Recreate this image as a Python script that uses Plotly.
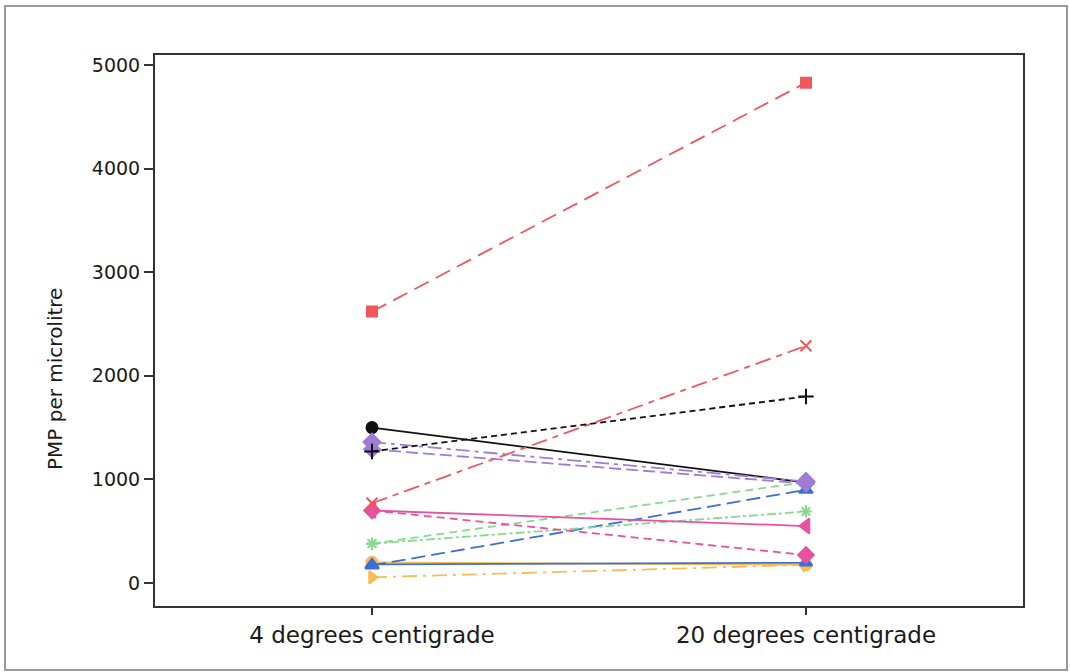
import plotly.graph_objects as go

categories = ["4 degrees centigrade", "20 degrees centigrade"]

orange_dashdot_tri = [55, 175]
orange_solid_circle = [200, 175]
blue_solid = [180, 195]
blue_longdash_tri = [170, 900]
green_dash = [380, 975]
green_dashdot_star = [380, 690]
pink_dash_diamond = [700, 270]
pink_solid_tri = [700, 550]
black_solid_circle = [1500, 970]
purple_dash = [1290, 960]
purple_longdash_diamond = [1360, 980]
red_dashdot_x = [770, 2290]
red_longdash_square = [2620, 4830]
black_dash_plus = [1270, 1800]

y_ticks = [0, 1000, 2000, 3000, 4000, 5000]
y_title = "PMP per microlitre"

RED = "#F0575C"
BLACK = "#111111"
PURPLE = "#A07CD4"
PINK = "#E8519F"
GREEN = "#86D98F"
BLUE = "#3C6FD6"
ORANGE = "#F7BC55"

series = [
    (orange_dashdot_tri, ORANGE, "longdashdot", "triangle-right", 11),
    (orange_solid_circle, ORANGE, "solid", "circle", 11),
    (blue_solid, BLUE, "solid", "triangle-up", 11),
    (blue_longdash_tri, BLUE, "14px,6px", "triangle-up", 12),
    (green_dash, GREEN, "8px,5px", "asterisk-open", 10),
    (green_dashdot_star, GREEN, "dashdot", "asterisk-open", 10),
    (pink_dash_diamond, PINK, "8px,5px", "diamond", 12),
    (pink_solid_tri, PINK, "solid", "triangle-left", 13),
    (black_solid_circle, BLACK, "solid", "circle", 11),
    (purple_dash, PURPLE, "12px,5px", "diamond", 12),
    (purple_longdash_diamond, PURPLE, "14px,5px,4px,5px", "diamond", 13),
    (red_dashdot_x, RED, "16px,6px,6px,6px", "x-thin-open", 11),
    (red_longdash_square, RED, "16px,8px", "square", 10),
    (black_dash_plus, BLACK, "6px,4px", "cross-thin-open", 11),
]

fig = go.Figure()
for vals, color, dash, sym, size in series:
    fig.add_trace(go.Scatter(
        x=categories, y=vals, mode="lines+markers",
        line=dict(color=color, width=1.8, dash=dash),
        marker=dict(color=color, symbol=sym, size=size,
                    line=dict(color=color, width=2)),
        showlegend=False, hoverinfo="skip",
    ))

W, H = 1070, 672
L, R, T, B = 155, 47, 55, 66
pw, ph = W - L - R, H - T - B

def px2x(p):
    return (p - L) / pw

def px2y(p):
    return (H - B - p) / ph

fig.add_shape(type="rect", xref="paper", yref="paper",
              x0=px2x(5), x1=px2x(1067), y0=px2y(670), y1=px2y(6),
              line=dict(color="#9a9a9a", width=2), fillcolor="rgba(0,0,0,0)",
              layer="below")

font_family = "DejaVu Sans, Verdana, sans-serif"
TXT = "#1a1a1a"

fig.add_annotation(text=y_title, xref="paper", yref="paper",
                   x=px2x(55), y=px2y(379), showarrow=False, textangle=-90,
                   xanchor="center", yanchor="middle",
                   font=dict(size=20, family=font_family, color=TXT))

fig.update_layout(
    width=W, height=H,
    margin=dict(l=L, r=R, t=T, b=B),
    paper_bgcolor="white", plot_bgcolor="white",
    font=dict(family=font_family, color=TXT),
    xaxis=dict(
        type="category", range=[-0.5, 1.5],
        showline=True, linecolor="#333333", linewidth=2, mirror=True,
        ticks="outside", ticklen=7, tickcolor="#333333", tickwidth=1.5,
        tickfont=dict(size=23, family=font_family, color=TXT),
        showgrid=False, zeroline=False,
    ),
    yaxis=dict(
        range=[-222, 5097],
        tickvals=y_ticks,
        showline=True, linecolor="#333333", linewidth=2, mirror=True,
        ticks="outside", ticklen=9, tickcolor="#333333", tickwidth=1.5,
        tickfont=dict(size=19, family=font_family, color=TXT),
        showgrid=False, zeroline=False,
    ),
)

fig.write_html("out.html")
